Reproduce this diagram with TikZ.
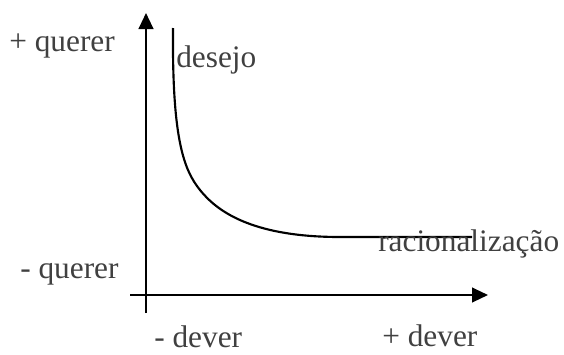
\documentclass[tikz,border=0pt]{standalone}
\usepackage{fontspec}
\setmainfont{Liberation Serif}
\usetikzlibrary{arrows.meta}
\definecolor{txt}{HTML}{404040}
\begin{document}
\begin{tikzpicture}[x=0.75pt,y=-0.75pt,
  lbl/.style={anchor=base west,inner sep=0pt,text=txt,font=\fontsize{23.5}{28}\selectfont},
  axis/.style={line width=1.6pt,-{Triangle[width=11pt,length=12pt]}},
  curve/.style={line width=1.6pt}]
\useasboundingbox (0,0) rectangle (564,354);
\coordinate (ybot) at (146,313);
\coordinate (ytop) at (146,13);
\coordinate (xl) at (130,295);
\coordinate (xr) at (488,295);
\coordinate (c0) at (173,28);
\coordinate (c1) at (200,190);
\coordinate (c2) at (340,237);
\coordinate (c3) at (472,237);
\draw[axis] (ybot) -- (ytop);
\draw[axis] (xl) -- (xr);
\draw[curve] (c0) .. controls (172,140) and (184,170) .. (c1)
  .. controls (216,210) and (250,237) .. (c2) -- (c3);
\node[lbl] (pq) at (9,51) {+ querer};
\node[lbl] (des) at (176,67) {desejo};
\node[lbl] (mq) at (20,278) {- querer};
\node[lbl] (rac) at (378,251) {racionalização};
\node[lbl] (md) at (154,347) {- dever};
\node[lbl] (pd) at (382,346) {+ dever};
\end{tikzpicture}
\end{document}
